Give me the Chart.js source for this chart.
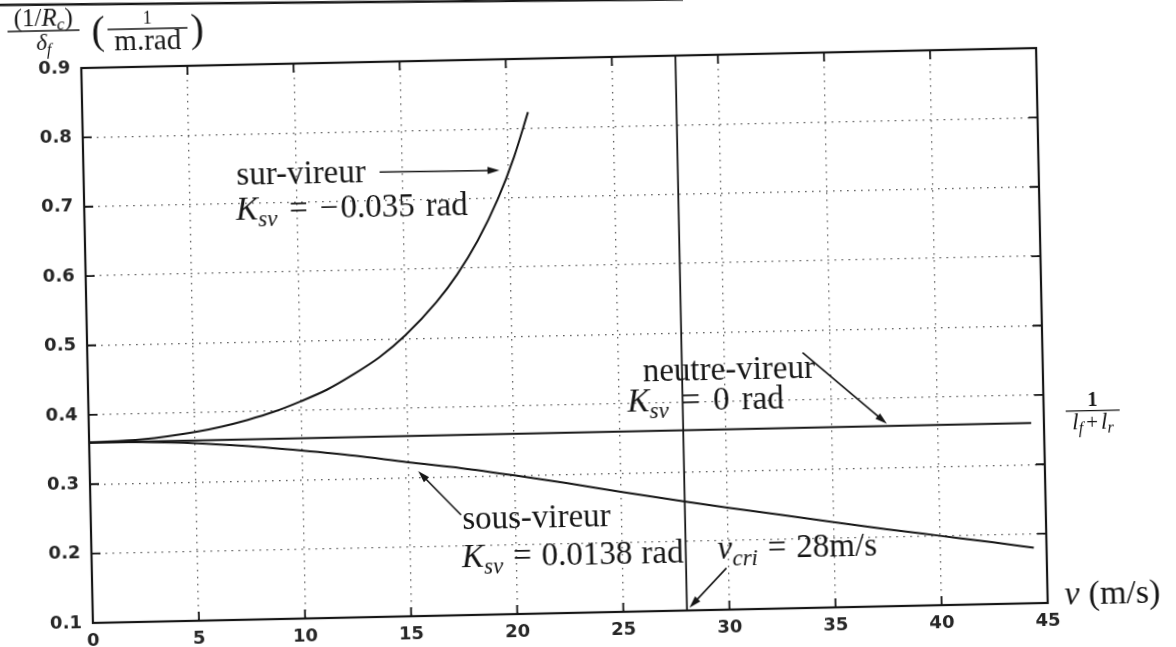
<!DOCTYPE html>
<html>
<head>
<meta charset="utf-8">
<script src="https://cdn.jsdelivr.net/npm/chart.js@4.4.1/dist/chart.umd.min.js"></script>
<style>
  html, body { margin: 0; padding: 0; background: #fff; overflow: hidden; width: 1176px; height: 647px; }
  #wrap { position: absolute; left: -50px; top: -50px; width: 1276px; height: 747px;
          transform-origin: 614.5px 385.5px; transform: rotate(-1.2deg); }
  canvas { display: block; }
</style>
</head>
<body>
<div id="wrap"><canvas id="c" width="1276" height="747"></canvas></div>
<script>
// Curvature gain (1/R_c)/delta_f in 1/(m.rad) versus speed v in m/s
const overSpeeds   = [0, 2.5, 5, 6.25, 7.5, 8.75, 10, 11.25, 12.5, 13.75, 15, 16.5, 17.5, 18.5, 19.5, 20.3, 21.0];
const overGain     = [0.36, 0.363, 0.372, 0.379, 0.388, 0.399, 0.413, 0.429, 0.450, 0.474, 0.505, 0.552, 0.591, 0.639, 0.699, 0.759, 0.823];

const neutralSpeeds = [0, 44.4];
const neutralGain   = [0.36, 0.36];

const underSpeeds  = [0, 2.5, 5, 7.5, 10, 12.5, 15, 17.5, 20, 22.5, 25, 28, 30, 32.5, 35, 37.5, 40, 42.5, 44.4];
const underGain    = [0.36, 0.359, 0.356, 0.350, 0.342, 0.333, 0.322, 0.312, 0.300, 0.287, 0.273, 0.257, 0.247, 0.235, 0.223, 0.211, 0.200, 0.189, 0.180];

const criticalSpeed = 28;
const gainRange     = [0.1, 0.9];

const xTickValues = [0, 5, 10, 15, 20, 25, 30, 35, 40, 45];
const yTickValues = [0.1, 0.2, 0.3, 0.4, 0.5, 0.6, 0.7, 0.8, 0.9];

const toPoints = (xs, ys) => xs.map((v, i) => ({ x: v, y: ys[i] }));

const INK = '#161616';
const SERIF = '"Liberation Serif", "Times New Roman", serif';
const F = {
  rm:  `33px ${SERIF}`,
  it:  `italic 33px ${SERIF}`,
  sub: `italic 23px ${SERIF}`
};

// text labels placed in data units (left end of baseline); bare numbers are gaps in px
const notes = [
  { x: 7.2,   y: 0.727, runs: [['sur-vireur', 'rm']] },
  { x: 7.15,  y: 0.677, runs: [['K', 'it'], ['sv', 'sub', 7], 12, ['=', 'rm'], 12, ['\u2212', 'rm'], 2, ['0.035', 'rm'], 11, ['rad', 'rm']] },
  { x: 26.15, y: 0.431, runs: [['neutre-vireur', 'rm']] },
  { x: 25.4,  y: 0.388, runs: [['K', 'it'], ['sv', 'sub', 7], 13, ['=', 'rm'], 13, ['0', 'rm'], 12, ['rad', 'rm']] },
  { x: 17.5,  y: 0.224, runs: [['sous-vireur', 'rm']] },
  { x: 17.45, y: 0.169, runs: [['K', 'it'], ['sv', 'sub', 7], 10, ['=', 'rm'], 10, ['0.0138', 'rm'], 9, ['rad', 'rm']] },
  { x: 29.5,  y: 0.174, runs: [['v', 'it'], ['cri', 'sub', 7], 10, ['=', 'rm'], 10, ['28m/s', 'rm']] }
];

const arrows = [
  { from: [13.95, 0.741], to: [19.6, 0.740] },
  { from: [33.7, 0.468],  to: [37.6, 0.363] },
  { from: [17.45, 0.2445], to: [15.47, 0.309] },
  { from: [29.9, 0.160],  to: [28.12, 0.104] }
];

function runsWidth(ctx, runs) {
  let w = 0;
  runs.forEach(r => {
    if (typeof r === 'number') { w += r; return; }
    ctx.font = F[r[1]] || r[1];
    w += ctx.measureText(r[0]).width;
  });
  return w;
}
function drawRuns(ctx, x, y, runs) {
  ctx.textBaseline = 'alphabetic';
  ctx.textAlign = 'left';
  runs.forEach(r => {
    if (typeof r === 'number') { x += r; return; }
    const [t, f, dy] = r;
    ctx.font = F[f] || f;
    ctx.fillText(t, x, y + (dy || 0));
    x += ctx.measureText(t).width;
  });
}
function drawArrow(ctx, x1, y1, x2, y2) {
  const ang = Math.atan2(y2 - y1, x2 - x1);
  const len = 12, hw = 3.6;
  ctx.beginPath();
  ctx.moveTo(x1, y1);
  ctx.lineTo(x2 - Math.cos(ang) * len * 0.8, y2 - Math.sin(ang) * len * 0.8);
  ctx.stroke();
  ctx.beginPath();
  ctx.moveTo(x2, y2);
  ctx.lineTo(x2 - Math.cos(ang) * len - Math.sin(ang) * hw, y2 - Math.sin(ang) * len + Math.cos(ang) * hw);
  ctx.lineTo(x2 - Math.cos(ang) * len + Math.sin(ang) * hw, y2 - Math.sin(ang) * len - Math.cos(ang) * hw);
  ctx.closePath();
  ctx.fill();
}
function drawFraction(ctx, cx, barY, barW, num, den, numGap, denGap) {
  ctx.beginPath();
  ctx.moveTo(cx - barW / 2, barY);
  ctx.lineTo(cx + barW / 2, barY);
  ctx.stroke();
  drawRuns(ctx, cx - runsWidth(ctx, num) / 2, barY - numGap, num);
  drawRuns(ctx, cx - runsWidth(ctx, den) / 2, barY + denGap, den);
}

const inkPlugin = {
  id: 'ink',
  afterDraw(chart) {
    const { ctx, chartArea: a, scales: { x, y } } = chart;
    ctx.save();
    ctx.strokeStyle = INK;
    ctx.fillStyle = INK;

    // frame
    ctx.lineWidth = 2.2;
    ctx.strokeRect(a.left, a.top, a.right - a.left, a.bottom - a.top);

    // inward tick marks on all four sides
    ctx.lineWidth = 1.8;
    ctx.beginPath();
    xTickValues.forEach(v => {
      const px = x.getPixelForValue(v);
      ctx.moveTo(px, a.bottom); ctx.lineTo(px, a.bottom - 9);
      ctx.moveTo(px, a.top);    ctx.lineTo(px, a.top + 9);
    });
    yTickValues.forEach(v => {
      const py = y.getPixelForValue(v);
      ctx.moveTo(a.left, py);  ctx.lineTo(a.left + 9, py);
      ctx.moveTo(a.right, py); ctx.lineTo(a.right - 9, py);
    });
    ctx.stroke();

    // annotations
    notes.forEach(n => drawRuns(ctx, x.getPixelForValue(n.x), y.getPixelForValue(n.y), n.runs));
    ctx.lineWidth = 1.6;
    arrows.forEach(ar => drawArrow(ctx,
      x.getPixelForValue(ar.from[0]), y.getPixelForValue(ar.from[1]),
      x.getPixelForValue(ar.to[0]),   y.getPixelForValue(ar.to[1])));

    // axis titles
    ctx.lineWidth = 1.4;
    const tl = a.left - 37, tt = a.top - 38;
    drawFraction(ctx, tl, tt, 72,
      [['(1/', `25px ${SERIF}`], ['R', `italic 25px ${SERIF}`], ['c', `italic 17px ${SERIF}`, 4], [')', `25px ${SERIF}`]],
      [['\u03b4', `italic 23px ${SERIF}`], ['f', `italic 16px ${SERIF}`, 5]], 5, 19);
    drawRuns(ctx, tl + 48, tt + 14, [['(', `40px ${SERIF}`]]);
    drawFraction(ctx, tl + 104, tt, 80,
      [['1', `18px ${SERIF}`]],
      [['m.rad', `29px ${SERIF}`]], 5, 21);
    drawRuns(ctx, tl + 147, tt + 14, [[')', `40px ${SERIF}`]]);

    // 1/(l_f + l_r) beside the right edge
    drawFraction(ctx, a.right + 49, y.getPixelForValue(neutralGain[1]) - 11, 54,
      [['1', `bold 20px ${SERIF}`]],
      [['l', `italic 23px ${SERIF}`], ['f', `italic 16px ${SERIF}`, 4], 3, ['+', `21px ${SERIF}`], 3, ['l', `italic 23px ${SERIF}`], ['r', `italic 16px ${SERIF}`, 4]], 5, 18);

    // speed axis title
    drawRuns(ctx, a.right + 17, a.bottom + 2, [['v', `italic 34px ${SERIF}`], 9, ['(m/s)', `34px ${SERIF}`]]);

    // page rule above the figure
    ctx.lineWidth = 2.4;
    ctx.beginPath();
    ctx.moveTo(0, 42.5);
    ctx.lineTo(740, 52);
    ctx.stroke();
    ctx.restore();
  }
};

const lineStyle = {
  showLine: true, pointRadius: 0, borderColor: INK, borderWidth: 2,
  cubicInterpolationMode: 'monotone', fill: false
};

new Chart(document.getElementById('c'), {
  type: 'scatter',
  data: {
    datasets: [
      { label: 'sur-vireur',    data: toPoints(overSpeeds, overGain), ...lineStyle },
      { label: 'neutre-vireur', data: toPoints(neutralSpeeds, neutralGain), ...lineStyle },
      { label: 'sous-vireur',   data: toPoints(underSpeeds, underGain), ...lineStyle },
      { label: 'v_cri',         data: toPoints([criticalSpeed, criticalSpeed], gainRange), ...lineStyle, borderWidth: 1.8 }
    ]
  },
  options: {
    responsive: false,
    animation: false,
    events: [],
    layout: { padding: { left: 50, top: 108, right: 184, bottom: 50 } },
    plugins: { legend: { display: false }, tooltip: { enabled: false } },
    scales: {
      x: {
        type: 'linear', min: 0, max: 45,
        afterBuildTicks: s => { s.ticks = xTickValues.map(value => ({ value })); },
        afterFit: s => { s.height = 34; },
        grid: { color: '#5a5a5a', lineWidth: 1.3, drawTicks: false },
        border: { display: false, dash: [1.6, 5.4] },
        ticks: { padding: 8, color: '#262626', maxRotation: 0, autoSkip: false,
                 font: { family: '"DejaVu Sans", sans-serif', size: 18, weight: 'bold' },
                 callback: v => String(v) }
      },
      y: {
        type: 'linear', min: gainRange[0], max: gainRange[1],
        afterBuildTicks: s => { s.ticks = yTickValues.map(value => ({ value })); },
        afterFit: s => { s.width = 87; },
        grid: { color: '#5a5a5a', lineWidth: 1.3, drawTicks: false },
        border: { display: false, dash: [1.6, 5.4] },
        ticks: { padding: 11, color: '#262626', autoSkip: false,
                 font: { family: '"DejaVu Sans", sans-serif', size: 18, weight: 'bold' },
                 callback: v => Number(v).toFixed(1) }
      }
    }
  },
  plugins: [inkPlugin]
});
</script>
</body>
</html>
